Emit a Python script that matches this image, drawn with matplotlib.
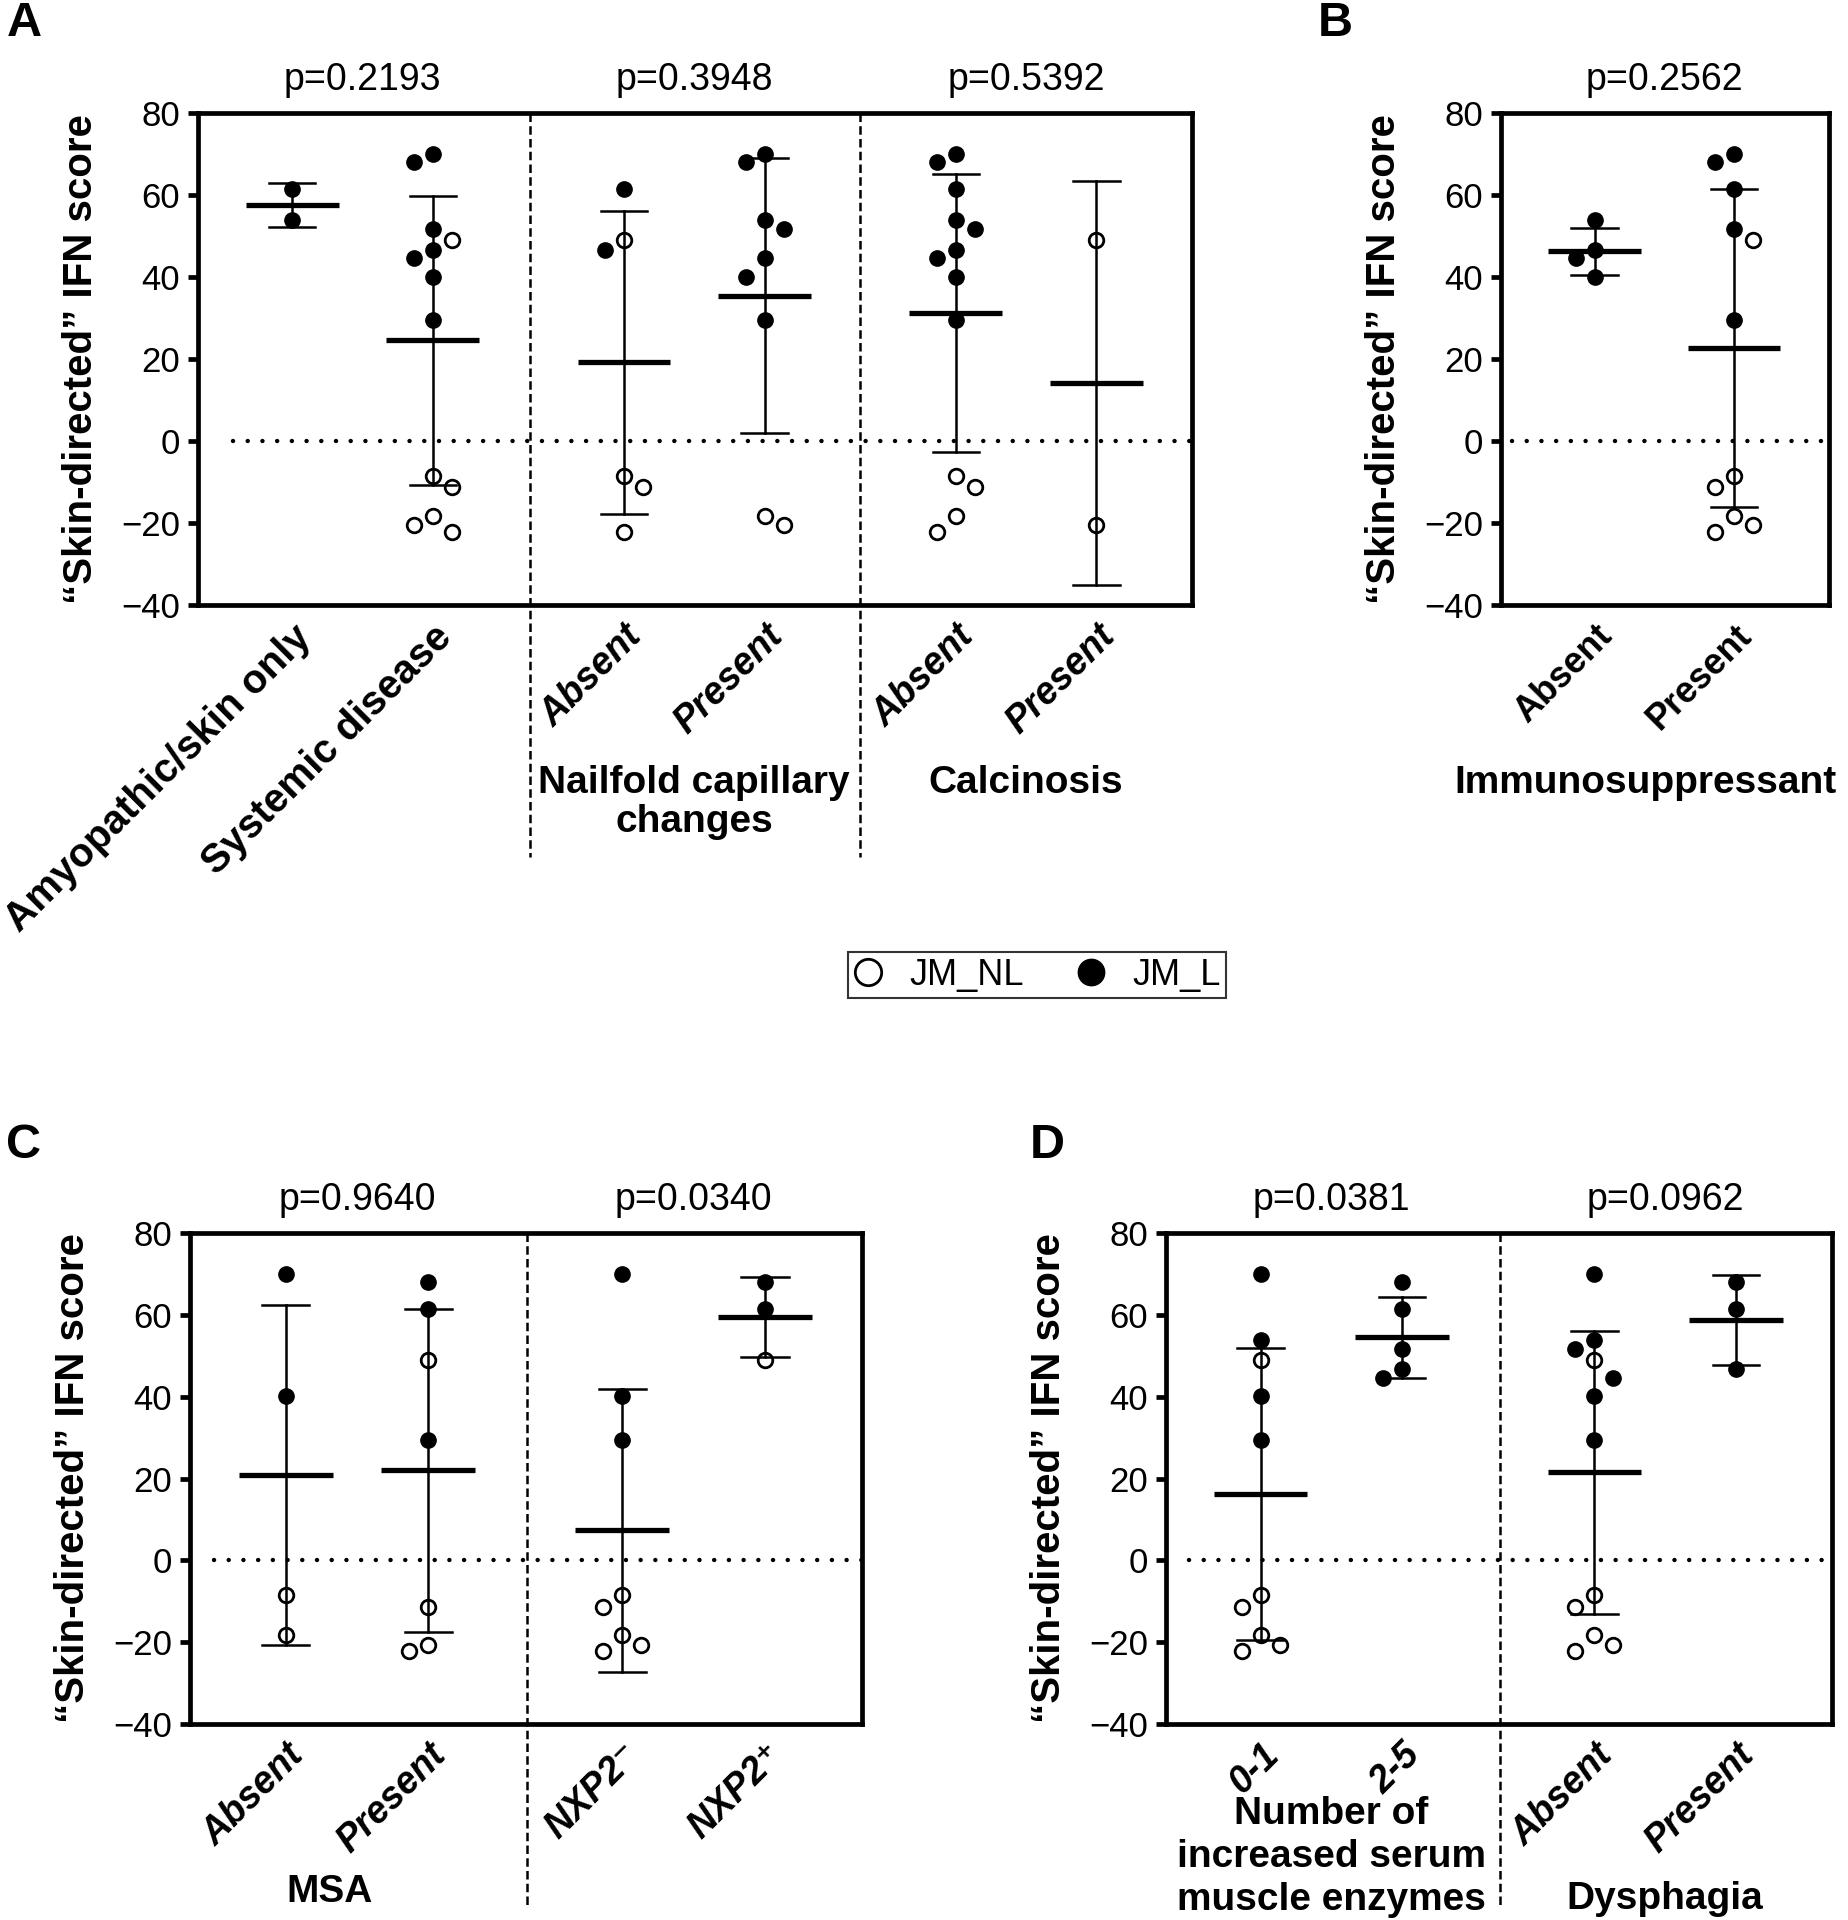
import numpy as np
import matplotlib.pyplot as plt
from matplotlib.lines import Line2D
from matplotlib.transforms import offset_copy

plt.rcParams['font.family'] = ['Liberation Sans', 'DejaVu Sans']

# === data: "Skin-directed" IFN score, JM_L = filled, JM_NL = open ===
# panel A
a_ticks = ['Amyopathic/skin only', 'Systemic disease', 'Absent', 'Present', 'Absent', 'Present']
a_L = [
    [61.4, 53.8],
    [69.9, 68.1, 51.6, 46.7, 44.6, 40.1, 29.4],
    [61.4, 46.7],
    [69.9, 68.1, 53.8, 51.6, 44.6, 40.1, 29.4],
    [69.9, 68.1, 61.4, 53.8, 51.6, 46.7, 44.6, 40.1, 29.4],
    [],
]
a_NL = [
    [],
    [49.0, -8.5, -11.3, -18.2, -20.6, -22.1],
    [49.0, -8.5, -11.3, -22.1],
    [-18.2, -20.6],
    [-8.5, -11.3, -18.2, -22.1],
    [49.0, -20.6],
]
a_pvals = ['p=0.2193', 'p=0.3948', 'p=0.5392']
a_titles = ['', 'Nailfold capillary\nchanges', 'Calcinosis']

# panel B
b_ticks = ['Absent', 'Present']
b_L = [[53.8, 46.7, 44.6, 40.1], [69.9, 68.1, 61.4, 51.6, 29.4]]
b_NL = [[], [49.0, -8.5, -11.3, -18.2, -20.6, -22.1]]
b_pvals = ['p=0.2562']
b_titles = ['Immunosuppressant']

# panel C
c_ticks = ['Absent', 'Present', 'NXP2⁻', 'NXP2⁺']
c_L = [[69.9, 40.1], [68.1, 61.4, 29.4], [69.9, 40.1, 29.4], [68.1, 61.4]]
c_NL = [[-8.5, -18.2], [49.0, -11.3, -20.6, -22.1],
        [-8.5, -11.3, -18.2, -20.6, -22.1], [49.0]]
c_pvals = ['p=0.9640', 'p=0.0340']
c_titles = ['MSA', '']

# panel D
d_ticks = ['0-1', '2-5', 'Absent', 'Present']
d_L = [[69.9, 53.8, 40.1, 29.4], [68.1, 61.4, 51.6, 46.7, 44.6],
       [69.9, 53.8, 51.6, 44.6, 40.1, 29.4], [68.1, 61.4, 46.7]]
d_NL = [[49.0, -8.5, -11.3, -18.2, -20.6, -22.1], [],
        [49.0, -8.5, -11.3, -18.2, -20.6, -22.1], []]
d_pvals = ['p=0.0381', 'p=0.0962']
d_titles = ['Number of\nincreased serum\nmuscle enzymes', 'Dysphagia']

# === layout (pixels of the 1848x1920 figure) ===
W, H = 1848, 1920
fig = plt.figure(figsize=(W / 100, H / 100), dpi=100)


def add_axes(l, t, r, b):
    return fig.add_axes([l / W, 1 - b / H, (r - l) / W, (b - t) / H])


def swarm(vals, px_x, px_y, step=19, min_d=19):
    # simple beeswarm: highest value first, nearest free slot, balanced sides
    order = np.argsort(vals)[::-1]
    placed = []
    slots = np.zeros(len(vals))
    left = right = 0
    for i in order:
        y = vals[i] * px_y
        k, found = 0, None
        while found is None:
            cands = [0] if k == 0 else ([-k, k] if left <= right else [k, -k])
            for s in cands:
                if all(np.hypot((s - ps) * step, y - py) >= min_d for ps, py in placed):
                    found = s
                    break
            k += 1
        placed.append((found, y))
        slots[i] = found
        if found < 0:
            left += 1
        elif found > 0:
            right += 1
    return slots * step / px_x


def draw_panel(ax, pos, Ls, NLs, ticks, pvals, titles, dividers, div_bottom,
               title_dy, title_dx=None, tick_fmt=None):
    pos = np.array(pos)
    ax.set_xlim(-0.67, pos[-1] + 0.68)
    ax.set_ylim(-40, 80)
    bb = ax.get_position()
    px_x = bb.width * W / (pos[-1] + 1.35)
    px_y = bb.height * H / 120

    for x, L, NL in zip(pos, Ls, NLs):
        vals = np.array(L + NL, dtype=float)
        m, sd = vals.mean(), vals.std(ddof=1)
        ax.plot([x, x], [m - sd, m + sd], color='k', lw=1.8, zorder=2)
        for yv in (m - sd, m + sd):
            ax.plot([x - 0.165, x + 0.165], [yv, yv], color='k', lw=1.8, zorder=2)
        ax.plot([x - 0.33, x + 0.33], [m, m], color='k', lw=3.8, zorder=3,
                solid_capstyle='butt')
        dx = swarm(vals, px_x, px_y)
        isL = np.arange(len(vals)) < len(L)
        ax.plot(x + dx[~isL], vals[~isL], 'o', ms=10.5, mfc='none', mec='k',
                mew=2, zorder=4)
        ax.plot(x + dx[isL], vals[isL], 'o', ms=11, mfc='k', mec='k', zorder=5)

    ax.axhline(0, xmin=0.035, xmax=1, color='k', lw=3.2, ls=(0, (0.01, 3.3)),
               dash_capstyle='round', zorder=1)
    for xd in dividers:
        ax.plot([xd, xd], [1, div_bottom], transform=ax.get_xaxis_transform(),
                color='k', lw=1.8, ls=(0, (3.4, 1.7)), clip_on=False, zorder=1)

    ax.set_yticks(np.arange(-40, 81, 20))
    ax.set_xticks([])
    ax.tick_params(axis='y', length=7, width=3.4, labelsize=25, pad=6)
    for sp in ax.spines.values():
        sp.set_linewidth(3.4)
    ax.set_ylabel('“Skin-directed” IFN score', fontsize=29, fontweight='bold')
    ax.yaxis.set_label_coords(0, 0.5, transform=offset_copy(
        ax.transAxes, fig=fig, x=-98, y=0, units='dots'))

    xt = ax.get_xaxis_transform()
    lab_tr = offset_copy(xt, fig=fig, x=0, y=-13, units='dots')
    if tick_fmt is None:
        tick_fmt = [('italic', 27)] * len(ticks)
    for x, lab, (style, size) in zip(pos, ticks, tick_fmt):
        ax.text(x, 0, lab, transform=lab_tr, rotation=45, rotation_mode='anchor',
                ha='right', va='top', fontsize=size, fontweight='bold',
                fontstyle=style)

    p_tr = offset_copy(xt, fig=fig, y=33, units='dots')
    for i, p in enumerate(pvals):
        ax.text(pos[2 * i:2 * i + 2].mean(), 1, p, transform=p_tr, ha='center',
                va='center', fontsize=27)

    if title_dx is None:
        title_dx = [0] * len(titles)
    for i, t in enumerate(titles):
        if not t:
            continue
        tr = offset_copy(xt, fig=fig, x=title_dx[i], y=-title_dy[i], units='dots')
        ax.text(pos[2 * i:2 * i + 2].mean(), 0, t, transform=tr, ha='center',
                va='top', fontsize=28, fontweight='bold',
                linespacing=1.1 if t.count('\n') == 1 else 1.25)


ax_a = add_axes(198, 113, 1192, 605)
ax_b = add_axes(1501, 113, 1829, 605)
ax_c = add_axes(190, 1233, 862, 1724)
ax_d = add_axes(1166, 1233, 1832, 1724)

draw_panel(ax_a, [0, 1, 2.36, 3.36, 4.72, 5.72], a_L, a_NL, a_ticks, a_pvals,
           a_titles, [1.69, 4.04], -0.512, [0, 160, 160],
           tick_fmt=[('normal', 29), ('normal', 29)] + [('italic', 27)] * 4)
draw_panel(ax_b, [0, 1], b_L, b_NL, b_ticks, b_pvals, b_titles, [], 0, [160],
           title_dx=[-19], tick_fmt=[('normal', 26)] * 2)
draw_panel(ax_c, [0, 1, 2.36, 3.36], c_L, c_NL, c_ticks, c_pvals, c_titles,
           [1.69], -0.369, [150, 0], title_dx=[-27, 0])
draw_panel(ax_d, [0, 1, 2.36, 3.36], d_L, d_NL, d_ticks, d_pvals, d_titles,
           [1.69], -0.369, [72, 157])

# panel letters
for letter, (lx, ly) in zip('ABCD', [(24, 24), (1335, 24), (24, 1145), (1047, 1145)]):
    fig.text(lx / W, 1 - ly / H, letter, fontsize=35, fontweight='bold',
             ha='center', va='center')

# legend
handles = [
    Line2D([], [], marker='o', ls='', ms=19, mfc='none', mec='k', mew=2, label='JM_NL'),
    Line2D([], [], marker='o', ls='', ms=19, mfc='k', mec='k', label='JM_L'),
]
leg = fig.legend(handles=handles, loc='center', bbox_to_anchor=(1037 / W, 1 - 975 / H),
                 ncol=2, fontsize=26, frameon=True, fancybox=False, edgecolor='k',
                 handlelength=0.8, handletextpad=0.75, columnspacing=1.45,
                 borderpad=0.15, borderaxespad=0)
leg.get_frame().set_linewidth(1.5)

fig.savefig('out.png', dpi=100, facecolor='white')
